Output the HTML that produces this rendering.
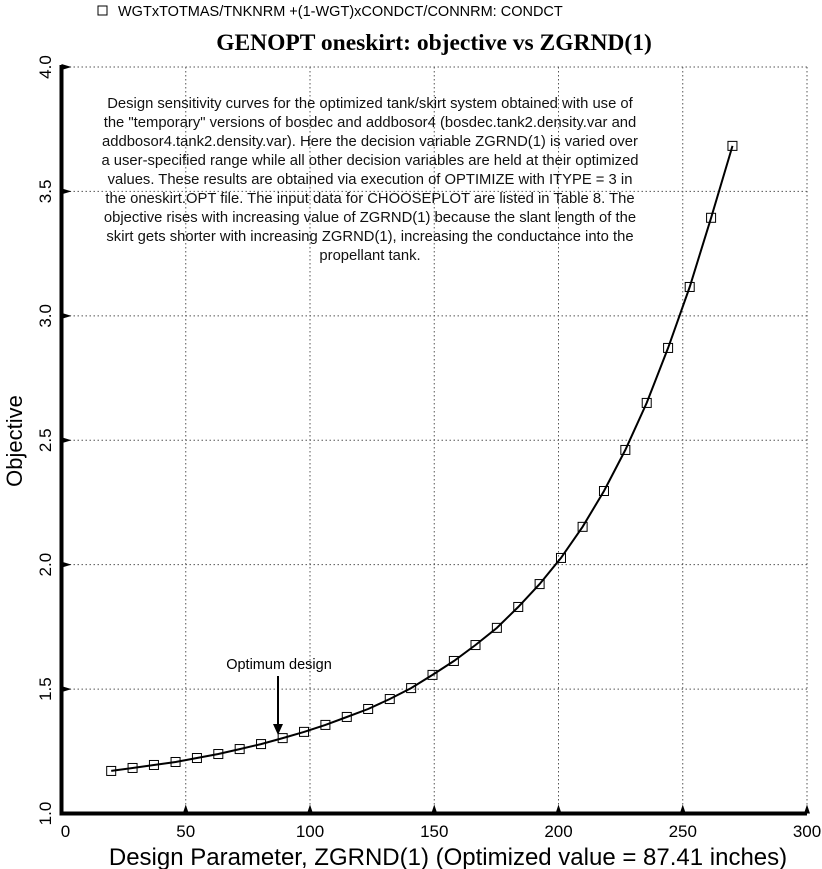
<!DOCTYPE html>
<html><head><meta charset="utf-8"><style>
html,body{margin:0;padding:0;background:#fff;}
svg{display:block;font-family:"Liberation Sans",sans-serif;}
</style></head><body>
<svg id="chart" width="822" height="869" viewBox="0 0 822 869">
<rect x="98" y="6" width="9" height="9" fill="none" stroke="#000" stroke-width="1"/>
<text x="118" y="16" font-size="14.5">WGTxTOTMAS/TNKNRM +(1-WGT)xCONDCT/CONNRM: CONDCT</text>
<text x="434" y="50" font-size="23.5" font-weight="bold" text-anchor="middle" font-family="Liberation Serif, serif">GENOPT oneskirt: objective vs ZGRND(1)</text>
<g id="grid"></g>
<g id="note" font-size="14.8" text-anchor="middle" fill="#111">
<text x="370" y="108">Design sensitivity curves for the optimized tank/skirt system obtained with use of</text>
<text x="370" y="127">the "temporary" versions of bosdec and addbosor4 (bosdec.tank2.density.var and</text>
<text x="370" y="146">addbosor4.tank2.density.var). Here the decision variable ZGRND(1) is varied over</text>
<text x="370" y="165">a user-specified range while all other decision variables are held at their optimized</text>
<text x="370" y="184">values. These results are obtained via execution of OPTIMIZE with ITYPE = 3 in</text>
<text x="370" y="203">the oneskirt.OPT file. The input data for CHOOSEPLOT are listed in Table 8. The</text>
<text x="370" y="222">objective rises with increasing value of ZGRND(1) because the slant length of the</text>
<text x="370" y="241">skirt gets shorter with increasing ZGRND(1), increasing the conductance into the</text>
<text x="370" y="260">propellant tank.</text>
</g>
<g id="axes"></g>
<g id="series"></g>
<text x="279" y="669" font-size="14.5" text-anchor="middle">Optimum design</text>
<line x1="278" y1="676" x2="278" y2="726" stroke="#000" stroke-width="2"/>
<polygon points="273,724 283,724 278,735" fill="#000"/>
<text x="448" y="865" font-size="24" text-anchor="middle">Design Parameter, ZGRND(1) (Optimized value = 87.41 inches)</text>
<text transform="translate(22,441) rotate(-90)" font-size="22" text-anchor="middle">Objective</text>
</svg>
<script>
const xTicks=[0,50,100,150,200,250,300];
const yTicks=[1.0,1.5,2.0,2.5,3.0,3.5,4.0];
const xVals=[20,28.6,37.2,45.9,54.5,63.1,71.7,80.3,89,97.6,106.2,114.8,123.4,132.1,140.7,149.3,157.9,166.6,175.2,183.8,192.4,201,209.7,218.3,226.9,235.5,244.1,252.8,261.4,270];
const yVals=[1.171,1.183,1.195,1.207,1.223,1.239,1.259,1.279,1.303,1.328,1.356,1.388,1.420,1.460,1.504,1.557,1.613,1.677,1.746,1.830,1.922,2.027,2.152,2.296,2.461,2.650,2.871,3.116,3.394,3.683];
const NS='http://www.w3.org/2000/svg';
const X=v=>61.5+v*(807-61.5)/300;
const Y=v=>813.5-(v-1)*(746.5/3);
function mk(tag,attrs,parent){const e=document.createElementNS(NS,tag);for(const k in attrs)e.setAttribute(k,attrs[k]);parent.appendChild(e);return e;}
const grid=document.getElementById('grid'),axes=document.getElementById('axes'),ser=document.getElementById('series');
xTicks.forEach(t=>{
 if(t>0){const l=mk('line',{x1:X(t),x2:X(t),y1:Y(4),y2:Y(1),stroke:'#555','stroke-width':1,'stroke-dasharray':'1.5,2.5'},grid);
 
 
 const p=mk('polygon',{points:`${X(t)-3},${Y(1)} ${X(t)+3},${Y(1)} ${X(t)},${Y(1)-9}`,fill:'#000'},axes);
 
 }
 const tx=mk('text',{x:X(t)+(t===0?4:0),y:837,'font-size':17,'text-anchor':'middle'},axes);tx.textContent=t;
 
 
});
yTicks.forEach(t=>{
 if(t>1){const l=mk('line',{x1:X(0),x2:X(300),y1:Y(t),y2:Y(t),stroke:'#555','stroke-width':1,'stroke-dasharray':'1.5,2.5'},grid);
 
 
 const p=mk('polygon',{points:`${X(0)},${Y(t)-3} ${X(0)},${Y(t)+3} ${X(0)+10},${Y(t)}`,fill:'#000'},axes);
 
 }
 const tx=mk('text',{transform:`translate(51,${Y(t)}) rotate(-90)`,'font-size':17,'text-anchor':'middle'},axes);tx.textContent=t.toFixed(1);
 
 
});
const ax=mk('path',{d:`M${X(0)},${Y(4)-2} V${Y(1)} H${X(300)}`,stroke:'#000','stroke-width':4,fill:'none'},axes);


const line=mk('path',{d:xVals.map((x,i)=>(i?'L':'M')+X(x).toFixed(1)+','+Y(yVals[i]).toFixed(1)).join(' '),stroke:'#000','stroke-width':2,fill:'none'},ser);


xVals.forEach((x,i)=>{
 const r=mk('rect',{x:X(x)-4.5,y:Y(yVals[i])-4.5,width:9,height:9,fill:'none',stroke:'#000','stroke-width':1},ser);
 
 
});
</script>
</body></html>
